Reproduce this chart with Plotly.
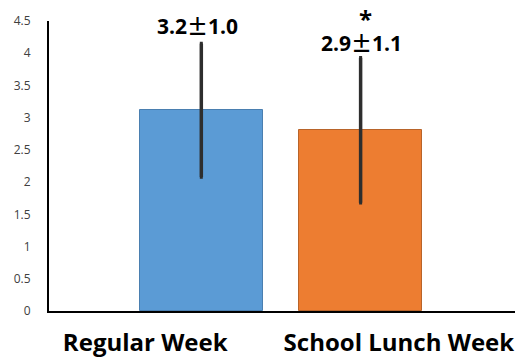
import plotly.graph_objects as go

categories = ["Regular Week", "School Lunch Week"]
means = [3.12, 2.81]
err_plus = [1.03, 1.12]
err_minus = [1.04, 1.13]
label_means = ["3.2", "2.9"]
label_sds = ["1.0", "1.1"]
marks = ["", "*"]
bar_colors = ["#5B9BD5", "#ED7D31"]
line_colors = ["#4A7FB0", "#B8642A"]
yticks = [0, 0.5, 1, 1.5, 2, 2.5, 3, 3.5, 4, 4.5]

xpos = list(range(len(categories)))
FONT = "Open Sans"

fig = go.Figure()
fig.add_trace(go.Bar(
    x=xpos, y=means, width=0.77,
    marker=dict(color=bar_colors, line=dict(color=line_colors, width=1)),
    error_y=dict(type="data", symmetric=False, array=err_plus, arrayminus=err_minus,
                 color="#2E2E2E", thickness=3.5, width=1.5),
    showlegend=False,
))

label_py = [25, 42]   # pixel rows of label centres
H, T, B = 358, 21, 47
for i in range(len(categories)):
    txt = (f"<b>{label_means[i]}<span style='font-family:Noto Sans CJK JP'>±</span>"
           f"{label_sds[i]}</b>")
    fig.add_annotation(x=xpos[i] - 0.025 + 0.03 * i, y=1 - (label_py[i] - T) / (H - T - B),
                       text=txt, showarrow=False,
                       font=dict(family=FONT, size=21, color="#000000"),
                       xref="x", yref="paper", yanchor="middle")
    if marks[i]:
        fig.add_annotation(x=xpos[i] + 0.03, y=1 - (label_py[i] - 23 - T) / (H - T - B),
                           text=f"<b>{marks[i]}</b>", showarrow=False,
                           font=dict(family=FONT, size=24, color="#000000"),
                           xref="x", yref="paper", yanchor="middle")

fig.update_layout(
    width=520, height=358,
    margin=dict(l=49, r=5, t=T, b=B, autoexpand=False),
    paper_bgcolor="white", plot_bgcolor="white",
    bargap=0,
    xaxis=dict(range=[-0.956, 1.969], tickvals=[-0.352, 1.24], ticktext=categories,
               showline=True, linecolor="#000000", linewidth=2, showgrid=False, zeroline=False,
               ticks="", ticklabelstandoff=9, automargin=False,
               tickfont=dict(family=FONT, size=24, color="#000000", weight="bold")),
    yaxis=dict(range=[0, 4.5], tickvals=yticks, ticktext=[f"{v:g}" for v in yticks],
               showline=True, linecolor="#000000", linewidth=2, showgrid=False, zeroline=False,
               ticks="", ticklabelstandoff=14, automargin=False,
               tickfont=dict(family=FONT, size=12, color="#404040")),
)

fig.write_html("out.html")
